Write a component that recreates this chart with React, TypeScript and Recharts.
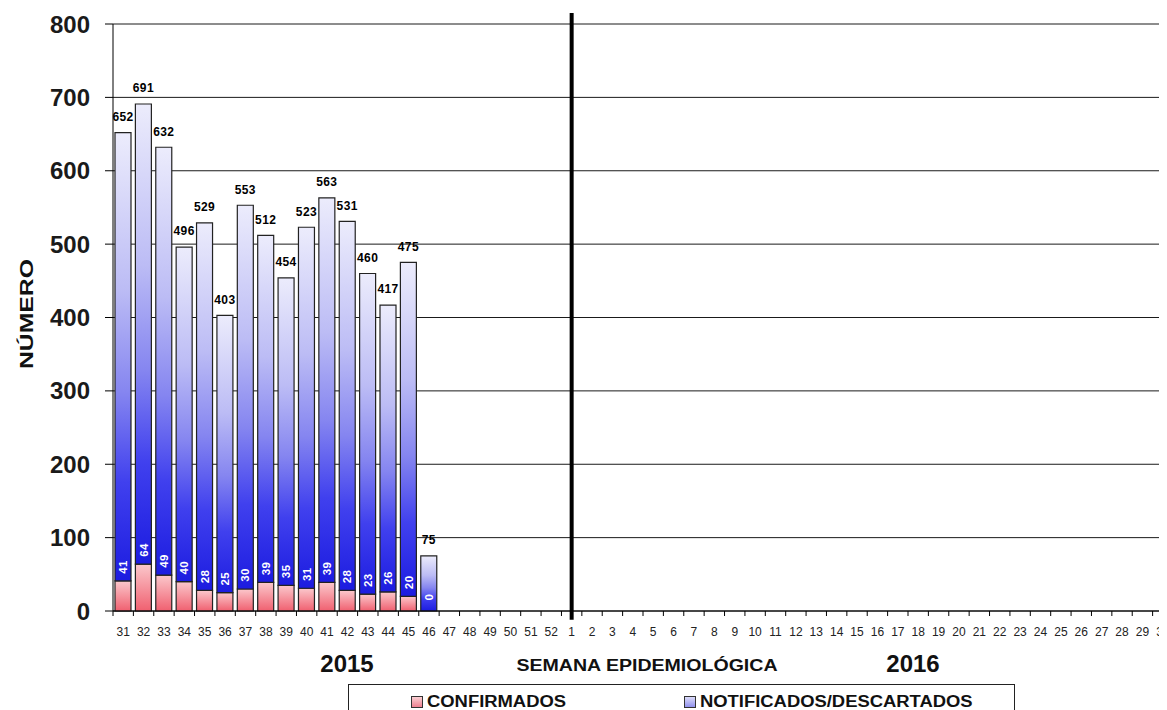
import React from 'react';
import {
  ComposedChart,
  Bar,
  XAxis,
  YAxis,
  CartesianGrid,
  ReferenceLine,
  LabelList,
  Legend,
} from 'recharts';

const weeks2015 = ['31', '32', '33', '34', '35', '36', '37', '38', '39', '40', '41', '42', '43', '44', '45', '46', '47', '48', '49', '50', '51', '52'];
const weeks2016 = ['1', '2', '3', '4', '5', '6', '7', '8', '9', '10', '11', '12', '13', '14', '15', '16', '17', '18', '19', '20', '21', '22', '23', '24', '25', '26', '27', '28', '29', '30'];
const totalCases = [652, 691, 632, 496, 529, 403, 553, 512, 454, 523, 563, 531, 460, 417, 475, 75];
const confirmedCases = [41, 64, 49, 40, 28, 25, 30, 39, 35, 31, 39, 28, 23, 26, 20, 0];
const yTicks = [0, 100, 200, 300, 400, 500, 600, 700, 800];
const seriesNames = { confirmed: 'CONFIRMADOS', notified: 'NOTIFICADOS/DESCARTADOS' };
const yearLabels = ['2015', '2016'];
const axisTitleX = 'SEMANA EPIDEMIOLÓGICA';
const axisTitleY = 'NÚMERO';

const weeks = [...weeks2015, ...weeks2016];
const data = weeks.map((w, i) => ({
  week: w,
  total: i < totalCases.length ? totalCases[i] : null,
  confirmed: i < confirmedCases.length ? confirmedCases[i] : null,
  notified: i < totalCases.length ? totalCases[i] - confirmedCases[i] : null,
}));

const FONT = '"Liberation Sans", Arial, sans-serif';
const CHART_W = 1180;
const CHART_H = 710;
const Y_AXIS_W = 113;
const PLOT_RIGHT = 1173;
const BAND = (PLOT_RIGHT - Y_AXIS_W) / weeks.length;

const XTick = (props: any) => {
  const { x, y, payload } = props;
  const axisY = y - 8;
  const bx = x - BAND / 2;
  return (
    <g>
      <line x1={bx} x2={bx} y1={axisY} y2={axisY + 5} stroke="#000" strokeWidth={1} />
      <text x={x} y={axisY + 25} textAnchor="middle" fontSize={12} fill="#222" fontFamily={FONT}>
        {payload.value}
      </text>
    </g>
  );
};

const TotalLabel = (props: any) => {
  const { x, y, width, value } = props;
  if (value == null) return null;
  return (
    <text
      x={Number(x) + Number(width) / 2}
      y={Number(y) - 16}
      dy="0.36em"
      textAnchor="middle"
      fontSize={12}
      fontWeight="bold"
      letterSpacing={0.4}
      fill="#000"
      fontFamily={FONT}
    >
      {value}
    </text>
  );
};

const ConfLabel = (props: any) => {
  const { x, y, width, height, value } = props;
  if (value == null) return null;
  const cx = Number(x) + Number(width) / 2;
  const cy = Number(y) + Number(height) - 14;
  return (
    <text
      x={cx}
      y={cy}
      transform={`rotate(-90 ${cx} ${cy})`}
      dy="0.36em"
      textAnchor="middle"
      fontSize={11.5}
      fontWeight="bold"
      letterSpacing={0.4}
      fill="#fff"
      fontFamily={FONT}
    >
      {value}
    </text>
  );
};

const legendMarkers: Record<string, string> = {
  confirmed: 'linear-gradient(#fbd0d4, #ee8090)',
  notified: 'linear-gradient(#dcdcfa, #9090ec)',
};
const legendOffsets = [62, 335];

const LegendBox = (props: any) => {
  const payload = props.payload || [];
  return (
    <div
      style={{
        position: 'relative',
        width: 667,
        height: 40,
        border: '1px solid #222',
        boxSizing: 'border-box',
        background: '#fff',
        fontFamily: FONT,
      }}
    >
      {payload.map((p: any, i: number) => (
        <div
          key={p.dataKey}
          style={{ position: 'absolute', left: legendOffsets[i], top: 10, height: 14, display: 'flex', alignItems: 'center', whiteSpace: 'nowrap' }}
        >
          <span
            style={{
              display: 'inline-block',
              width: 10,
              height: 10,
              border: '1px solid #333',
              background: legendMarkers[p.dataKey],
              marginRight: 4,
            }}
          />
          <span
            style={{
              display: 'inline-block',
              fontSize: 16,
              fontWeight: 'bold',
              color: '#111',
              transform: 'scaleX(1.15)',
              transformOrigin: 'left center',
              lineHeight: '14px',
            }}
          >
            {p.value}
          </span>
        </div>
      ))}
    </div>
  );
};

export default function App() {
  return (
    <div style={{ position: 'relative', width: 1167, height: 710, marginLeft: -8, marginTop: -8, overflow: 'hidden', background: '#fff' }}>
      <ComposedChart
        width={CHART_W}
        height={CHART_H}
        data={data}
        margin={{ top: 24, right: CHART_W - PLOT_RIGHT, left: 0, bottom: 69 }}
        barCategoryGap={0}
      >
        <defs>
          <linearGradient id="gradBlue" x1="0" y1="0" x2="0" y2="1">
            <stop offset="0%" stopColor="#ececfc" />
            <stop offset="35%" stopColor="#bcbcf5" />
            <stop offset="58%" stopColor="#8585f0" />
            <stop offset="78%" stopColor="#4040ee" />
            <stop offset="100%" stopColor="#1c1ce0" />
          </linearGradient>
          <linearGradient id="gradRed" x1="0" y1="0" x2="0" y2="1">
            <stop offset="0%" stopColor="#fbc8cc" />
            <stop offset="100%" stopColor="#f06070" />
          </linearGradient>
        </defs>
        <CartesianGrid horizontal vertical={false} stroke="#1a1a1a" strokeWidth={1} />
        <XAxis
          dataKey="week"
          interval={0}
          height={30}
          tickLine={false}
          tickSize={6}
          tickMargin={2}
          tick={<XTick />}
          axisLine={{ stroke: '#000', strokeWidth: 1 }}
        />
        <YAxis
          width={Y_AXIS_W}
          domain={[0, 800]}
          ticks={yTicks}
          interval={0}
          tickSize={8}
          tickMargin={15}
          tickLine={{ stroke: '#000' }}
          axisLine={{ stroke: '#000', strokeWidth: 1 }}
          tick={{ fontSize: 24, fontWeight: 'bold', fill: '#1a1a1a', fontFamily: FONT }}
        />
        <Legend
          layout="horizontal"
          verticalAlign="middle"
          align="center"
          wrapperStyle={{ left: 348, top: 684, width: 667, height: 40 }}
          content={<LegendBox />}
        />
        <Bar
          dataKey="confirmed"
          name={seriesNames.confirmed}
          stackId="s"
          barSize={16}
          fill="url(#gradRed)"
          stroke="#222"
          strokeWidth={1.2}
          isAnimationActive={false}
        />
        <Bar
          dataKey="notified"
          name={seriesNames.notified}
          stackId="s"
          barSize={16}
          fill="url(#gradBlue)"
          stroke="#222"
          strokeWidth={1.2}
          isAnimationActive={false}
        >
          <LabelList dataKey="total" content={<TotalLabel />} />
          <LabelList dataKey="confirmed" content={<ConfLabel />} />
        </Bar>
        <ReferenceLine
          segment={[{ x: '1', y: -12 }, { x: '1', y: 815 }]}
          stroke="#000"
          strokeWidth={4}
          ifOverflow="visible"
        />
      </ComposedChart>
      <svg width={1167} height={710} style={{ position: 'absolute', left: 0, top: 0, pointerEvents: 'none' }}>
        <text x={347} y={672} textAnchor="middle" fontSize={24} fontWeight="bold" fill="#111" fontFamily={FONT}>
          {yearLabels[0]}
        </text>
        <text
          x={647}
          y={671}
          textAnchor="middle"
          fontSize={16}
          fontWeight="bold"
          fill="#111"
          fontFamily={FONT}
          textLength={261}
          lengthAdjust="spacingAndGlyphs"
        >
          {axisTitleX}
        </text>
        <text x={913} y={672} textAnchor="middle" fontSize={24} fontWeight="bold" fill="#111" fontFamily={FONT}>
          {yearLabels[1]}
        </text>
        <text
          transform="translate(33,314) rotate(-90)"
          textAnchor="middle"
          fontSize={19}
          fontWeight="bold"
          fill="#111"
          fontFamily={FONT}
          textLength={110}
          lengthAdjust="spacingAndGlyphs"
        >
          {axisTitleY}
        </text>
      </svg>
    </div>
  );
}
